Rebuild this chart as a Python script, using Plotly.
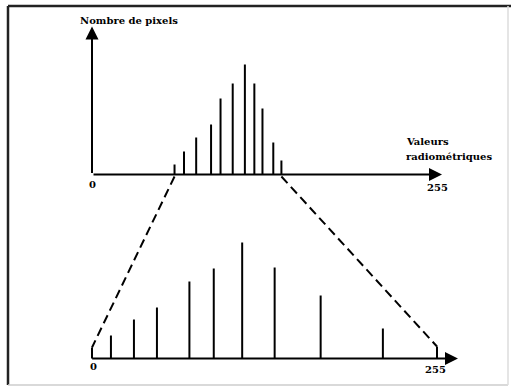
import plotly.graph_objects as go

# radiometric values and pixel counts, before and after the stretch
values_before = [61, 68, 77, 88, 95, 104, 113, 120, 126, 134, 140]
counts_before = [10, 23, 37, 50, 76, 91, 110, 91, 66, 32, 14]
values_after = [0, 14, 31, 48, 72, 90, 111, 135, 169, 215, 255]
counts_after = [11, 23, 39, 51, 77, 90, 116, 91, 63, 30, 12]

axis_min, axis_max = 0, 255
y_label = "Nombre de pixels"
x_label = ["Valeurs", "radiométriques"]

W, H = 511, 388
Y_TOP = 184          # baseline of the upper histogram
KX = 345 / 255       # px per radiometric unit
x_range = [-92 / KX, (W - 92) / KX]
y_range = [-(H - 358.5), 358.5]


def stems(xs, ys, base):
    px, py = [], []
    for x, y in zip(xs, ys):
        px += [x, x, None]
        py += [base, base + y, None]
    return px, py


fig = go.Figure()

# upper histogram
sx, sy = stems(values_before, counts_before, Y_TOP)
fig.add_trace(go.Scatter(x=sx, y=sy, mode='lines', line=dict(color='black', width=2),
                         hoverinfo='skip'))
# lower (stretched) histogram
sx, sy = stems(values_after, counts_after, 0)
fig.add_trace(go.Scatter(x=sx, y=sy, mode='lines', line=dict(color='black', width=2),
                         hoverinfo='skip'))

# dashed lines linking the two histograms
for i in (0, -1):
    fig.add_trace(go.Scatter(x=[values_before[i], values_after[i]],
                             y=[Y_TOP - 2, counts_after[i]], mode='lines',
                             line=dict(color='black', width=2, dash='9px,5px'),
                             hoverinfo='skip'))

# axes with arrows
def arrow(x0, y0, x1, y1):
    fig.add_annotation(x=x1, y=y1, ax=x0, ay=y0, xref='x', yref='y', axref='x', ayref='y',
                       showarrow=True, arrowhead=2, arrowsize=1.3, arrowwidth=2,
                       arrowcolor='black', text='')

arrow(axis_min, Y_TOP, axis_min, Y_TOP + 148)
arrow(axis_min, Y_TOP, 258.7, Y_TOP)
arrow(axis_min - 1, 0, 270.5, 0)

font = dict(family="DejaVu Serif", size=10, color='black', weight='bold')
fig.add_annotation(x=27, y=338.5, text=y_label, showarrow=False, font=font)
fig.add_annotation(x=230.6, y=216.8, text=x_label[0], showarrow=False, font=font, xanchor='left')
fig.add_annotation(x=230.6, y=201.8, text=x_label[1], showarrow=False, font=font, xanchor='left')
fig.add_annotation(x=axis_min, y=Y_TOP - 10, text=str(axis_min), showarrow=False, font=font)
fig.add_annotation(x=axis_max, y=Y_TOP - 13, text=str(axis_max), showarrow=False, font=font)
fig.add_annotation(x=axis_min + 1, y=-8, text=str(axis_min), showarrow=False, font=font)
fig.add_annotation(x=axis_max - 1, y=-10.5, text=str(axis_max), showarrow=False, font=font)

# frame
fig.add_shape(type='line', xref='paper', yref='paper', x0=8 / W, x1=1, y0=1 - 6 / H, y1=1 - 6 / H,
              line=dict(color='#222', width=2.5))
fig.add_shape(type='line', xref='paper', yref='paper', x0=8 / W, x1=8 / W, y0=1 - 6 / H, y1=3 / H,
              line=dict(color='#222', width=2.5))
fig.add_shape(type='line', xref='paper', yref='paper', x0=8 / W, x1=508 / W, y0=3 / H, y1=3 / H,
              line=dict(color='#ccc', width=1.5))
fig.add_shape(type='line', xref='paper', yref='paper', x0=508 / W, x1=508 / W, y0=3 / H, y1=1 - 6 / H,
              line=dict(color='#ddd', width=1.5))

fig.update_layout(
    width=W, height=H,
    margin=dict(l=0, r=0, t=0, b=0),
    showlegend=False,
    plot_bgcolor='white',
    paper_bgcolor='white',
    xaxis=dict(range=x_range, visible=False, fixedrange=True),
    yaxis=dict(range=y_range, visible=False, fixedrange=True),
)

# page body has a default margin; remove it so the figure sits at the window origin
fig.write_html("out.html", config={'displayModeBar': False},
               post_script="document.body.style.margin='0';document.body.style.overflow='hidden';")
